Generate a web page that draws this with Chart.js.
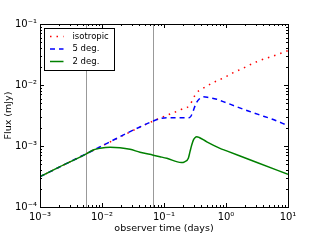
<!DOCTYPE html>
<html>
<head>
<meta charset="utf-8">
<script src="https://cdn.jsdelivr.net/npm/chart.js@4"></script>
<style>
  html, body { margin: 0; padding: 0; background: #fff; }
  #wrap { width: 320px; height: 240px; }
</style>
</head>
<body>
<div id="wrap"><canvas id="fluxChart" width="320" height="240"></canvas></div>
<script>
// ----------------------------------------
// DATOS
// ----------------------------------------
const seriesLabels = ['isotropic', '5 deg.', '2 deg.'];

const isoT = [0.001, 0.0055, 0.067, 0.104, 0.193, 0.262, 0.297, 0.337, 0.405, 0.49, 0.665, 0.96, 1.24, 1.88, 3.13, 5.8, 10];
const isoF = [3.14e-4, 7.4e-4, 2.57e-3, 3.1e-3, 4.0e-3, 4.7e-3, 6.05e-3, 7.5e-3, 8.5e-3, 9.6e-3, 1.13e-2, 1.34e-2, 1.55e-2, 1.88e-2, 2.41e-2, 2.99e-2, 3.65e-2];

const deg5T = [0.001, 0.0055, 0.067, 0.085, 0.11, 0.2, 0.26, 0.285, 0.31, 0.34, 0.37, 0.43, 0.5, 0.71, 1, 1.49, 2.29, 3.53, 5.46, 10];
const deg5F = [3.14e-4, 7.4e-4, 2.57e-3, 2.8e-3, 2.9e-3, 2.9e-3, 2.92e-3, 3.4e-3, 4.3e-3, 5.3e-3, 5.9e-3, 6.4e-3, 6.3e-3, 5.83e-3, 5.13e-3, 4.4e-3, 3.75e-3, 3.22e-3, 2.77e-3, 2.16e-3];

const deg2T = [0.001, 0.0021, 0.0054, 0.0072, 0.0093, 0.0135, 0.0195, 0.0283, 0.041, 0.067, 0.086, 0.111, 0.19, 0.215, 0.247, 0.262, 0.28, 0.3, 0.316, 0.337, 0.37, 0.49, 0.8, 1, 3.16, 10];
const deg2F = [3.14e-4, 4.58e-4, 7.31e-4, 8.59e-4, 9.16e-4, 9.53e-4, 9.38e-4, 8.83e-4, 7.89e-4, 7.08e-4, 6.68e-4, 6.28e-4, 5.35e-4, 5.5e-4, 6.31e-4, 8.0e-4, 1.04e-3, 1.27e-3, 1.37e-3, 1.42e-3, 1.38e-3, 1.17e-3, 9.16e-4, 8.4e-4, 5.37e-4, 3.44e-4];

const markerTimes = [0.0055, 0.067];

const xTicks = [1e-3, 1e-2, 1e-1, 1e0, 1e1];
const xTickLabels = ['10⁻³', '10⁻²', '10⁻¹', '10⁰', '10¹'];
const yTicks = [1e-4, 1e-3, 1e-2, 1e-1];
const yTickLabels = ['10⁻⁴', '10⁻³', '10⁻²', '10⁻¹'];

const FONT = "'DejaVu Sans', sans-serif";

function toPoints(ts, fs) {
    return ts.map((t, i) => ({ x: t, y: fs[i] }));
}

// ----------------------------------------
// PLUGIN: lineas verticales (debajo de las curvas)
// ----------------------------------------
const markerPlugin = {
    id: 'markers',
    beforeDatasetsDraw(chart) {
        const ctx = chart.ctx;
        const a = chart.chartArea;
        const xs = chart.scales.x;
        ctx.save();
        ctx.strokeStyle = '#999';
        ctx.lineWidth = 1;
        ctx.beginPath();
        markerTimes.forEach(t => {
            const px = Math.round(xs.getPixelForValue(t)) + 0.5;
            ctx.moveTo(px, a.top);
            ctx.lineTo(px, a.bottom);
        });
        ctx.stroke();
        ctx.restore();
    }
};

// ----------------------------------------
// PLUGIN: marco, ticks hacia adentro y leyenda
// ----------------------------------------
const framePlugin = {
    id: 'frame',
    afterDraw(chart) {
        const ctx = chart.ctx;
        const a = chart.chartArea;
        const xs = chart.scales.x;
        const ys = chart.scales.y;
        ctx.save();
        ctx.strokeStyle = '#000';
        ctx.lineWidth = 1;

        // ticks menores y mayores
        ctx.beginPath();
        for (let d = -3; d <= 1; d++) {
            for (let m = 1; m <= 9; m++) {
                const v = m * Math.pow(10, d);
                if (v < xs.min * 0.999 || v > xs.max * 1.001) continue;
                const px = Math.round(xs.getPixelForValue(v)) + 0.5;
                const len = m === 1 ? 4 : 2;
                ctx.moveTo(px, a.bottom); ctx.lineTo(px, a.bottom - len);
                ctx.moveTo(px, a.top); ctx.lineTo(px, a.top + len);
            }
        }
        for (let d = -4; d <= -1; d++) {
            for (let m = 1; m <= 9; m++) {
                const v = m * Math.pow(10, d);
                if (v < ys.min * 0.999 || v > ys.max * 1.001) continue;
                const py = Math.round(ys.getPixelForValue(v)) + 0.5;
                const len = m === 1 ? 4 : 2;
                ctx.moveTo(a.left, py); ctx.lineTo(a.left + len, py);
                ctx.moveTo(a.right, py); ctx.lineTo(a.right - len, py);
            }
        }
        ctx.stroke();

        // marco
        ctx.strokeRect(Math.round(a.left) + 0.5, Math.round(a.top) + 0.5,
            Math.round(a.right - a.left), Math.round(a.bottom - a.top));

        // leyenda
        const bx = a.left + 4.5, by = a.top + 4.5, bw = 70, bh = 42;
        ctx.fillStyle = '#fff';
        ctx.fillRect(bx, by, bw, bh);
        ctx.strokeRect(bx, by, bw, bh);
        const order = [2, 1, 0];
        ctx.font = '8.5px ' + FONT;
        ctx.textBaseline = 'middle';
        order.forEach((di, row) => {
            const ds = chart.data.datasets[di];
            const ly = by + 8 + row * 12.5;
            ctx.save();
            ctx.strokeStyle = ds.borderColor;
            ctx.lineWidth = ds.borderWidth;
            ctx.setLineDash(ds.borderDash || []);
            ctx.beginPath();
            ctx.moveTo(bx + 5.5, ly);
            ctx.lineTo(bx + 19, ly);
            ctx.stroke();
            ctx.restore();
            ctx.fillStyle = '#000';
            ctx.fillText(ds.label, bx + 28, ly);
        });
        ctx.restore();
    }
};

// ----------------------------------------
// GRAFICO
// ----------------------------------------
const datasets = [
    {
        label: seriesLabels[2],
        data: toPoints(deg2T, deg2F),
        borderColor: '#008000',
        borderWidth: 1.5,
        order: 1
    },
    {
        label: seriesLabels[1],
        data: toPoints(deg5T, deg5F),
        borderColor: '#0000ff',
        borderWidth: 1.5,
        borderDash: [5, 4],
        order: 2
    },
    {
        label: seriesLabels[0],
        data: toPoints(isoT, isoF),
        borderColor: '#ff0000',
        borderWidth: 1.5,
        borderDash: [1.5, 5],
        order: 3
    }
];

datasets.forEach(ds => {
    ds.pointRadius = 0;
    ds.fill = false;
    ds.cubicInterpolationMode = 'monotone';
});

const ctx = document.getElementById('fluxChart').getContext('2d');
new Chart(ctx, {
    type: 'line',
    data: { datasets: datasets },
    options: {
        responsive: false,
        animation: false,
        events: [],
        layout: { padding: { top: 24, right: 32, left: 0, bottom: 0 } },
        plugins: {
            legend: { display: false },
            tooltip: { enabled: false }
        },
        scales: {
            x: {
                type: 'logarithmic',
                min: 1e-3,
                max: 10,
                afterBuildTicks: scale => { scale.ticks = xTicks.map(v => ({ value: v })); },
                afterFit: scale => { scale.height = 33; },
                grid: { display: false, drawTicks: false },
                border: { display: false },
                ticks: {
                    autoSkip: false,
                    maxRotation: 0,
                    padding: 4,
                    color: '#000',
                    font: { family: FONT, size: 10 },
                    callback: (v, i) => xTickLabels[i]
                },
                title: {
                    display: true,
                    text: 'observer time (days)',
                    color: '#000',
                    font: { family: FONT, size: 9.5 },
                    padding: { top: 0, bottom: 6 }
                }
            },
            y: {
                type: 'logarithmic',
                min: 1e-4,
                max: 1e-1,
                afterBuildTicks: scale => { scale.ticks = yTicks.map(v => ({ value: v })); },
                afterFit: scale => { scale.width = 40; },
                grid: { display: false, drawTicks: false },
                border: { display: false },
                ticks: {
                    autoSkip: false,
                    padding: 3,
                    color: '#000',
                    font: { family: FONT, size: 10 },
                    callback: (v, i) => yTickLabels[i]
                },
                title: {
                    display: true,
                    text: 'Flux (mJy)',
                    color: '#000',
                    font: { family: FONT, size: 9.5 },
                    padding: { top: 3, bottom: 0 }
                }
            }
        }
    },
    plugins: [markerPlugin, framePlugin]
});
</script>
</body>
</html>
